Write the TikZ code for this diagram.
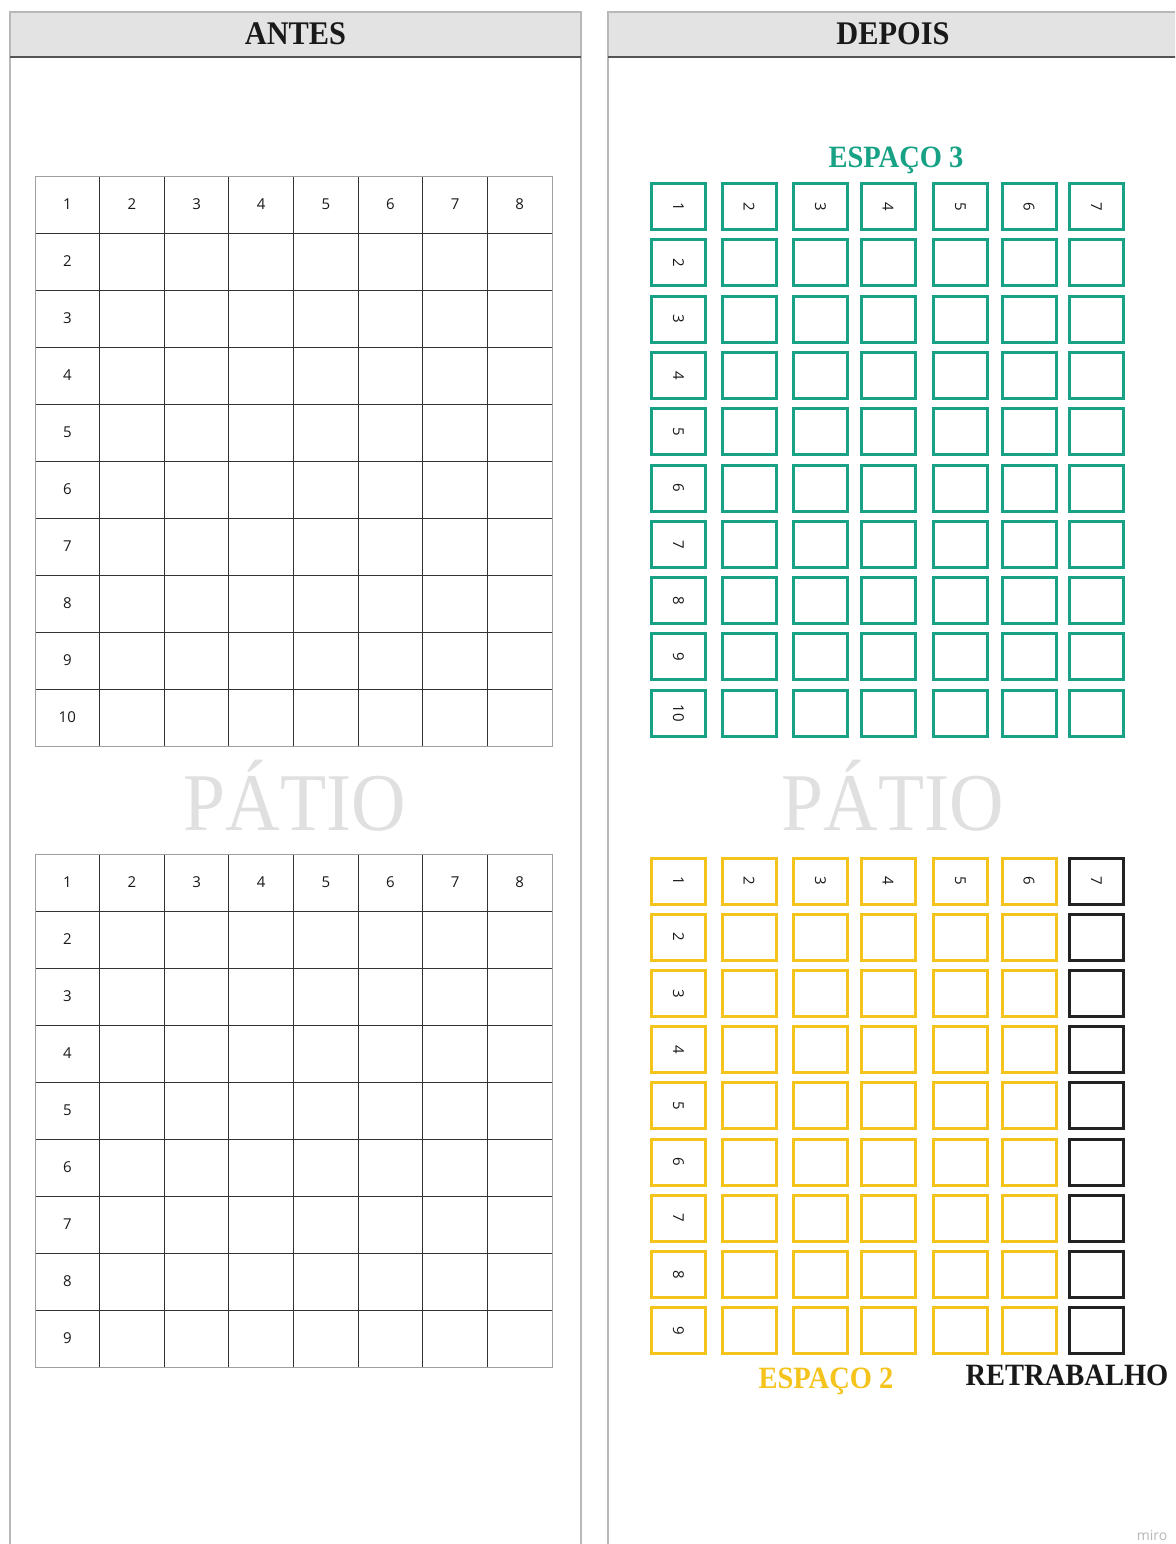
\documentclass[tikz,border=0pt]{standalone}
\usepackage{fontspec}
\setmainfont{Liberation Serif}
\newfontfamily\numfont{Open Sans}
\newfontfamily\titlefont[FakeStretch=0.92]{Liberation Serif}
\definecolor{hdrgray}{HTML}{E3E3E3}
\definecolor{framegray}{HTML}{B8B8B8}
\definecolor{hdrline}{HTML}{555555}
\definecolor{gridgray}{HTML}{A0A0A0}
\definecolor{gridline}{HTML}{333333}
\definecolor{patio}{HTML}{E0E0E0}
\definecolor{teal3}{HTML}{17A185}
\definecolor{gold2}{HTML}{F4C31C}
\definecolor{rework}{HTML}{222222}
\begin{document}
\begin{tikzpicture}[x=1pt,y=-1pt,
  hdr/.style={font=\titlefont\bfseries\fontsize{33}{33}\selectfont, text=black!90, inner sep=0pt, anchor=base},
  lbl/.style={font=\titlefont\bfseries\fontsize{31}{31}\selectfont, inner sep=0pt, anchor=base},
  patiotext/.style={font=\titlefont\fontsize{82}{82}\selectfont, text=patio, inner sep=0pt, anchor=base},
  cellnum/.style={font=\numfont\fontsize{15}{15}\selectfont, text=black!90, inner sep=0pt},
  boxnum/.style={font=\numfont\fontsize{15}{15}\selectfont, text=black!90, inner sep=0pt, rotate=-90},
  slotbox/.style={draw, line width=3pt, minimum width=54pt, minimum height=46pt, inner sep=0pt},
  panelframe/.style={draw=framegray, line width=1.5pt},
]
\useasboundingbox (0,0) rectangle (1175,1544);
\clip (0,0) rectangle (1175,1544);
\fill[white] (0,0) rectangle (1175,1544);

% ---------- panels ----------
\fill[hdrgray] (10,12) rectangle (581,57);
\draw[panelframe] (10,1560) -- (10,12) -- (581,12) -- (581,1560);
\draw[hdrline, line width=1.2pt] (10,57) -- (581,57);
\fill[hdrgray] (608,12) rectangle (1190,57);
\draw[panelframe] (608,1560) -- (608,12) -- (1190,12);
\draw[hdrline, line width=1.2pt] (608,57) -- (1190,57);
\node[hdr] (hA) at (295.5,45) {ANTES};
\node[hdr] (hD) at (893,45) {DEPOIS};

% ---------- ANTES grids ----------
\foreach \g/\gtop/\nr in {A/176/10,B/854/9} {
  \pgfmathsetmacro\gbot{\gtop+57*\nr}
  \pgfmathtruncatemacro\nrm{\nr-1}
  \foreach \i in {1,...,7}
    \draw[gridline, line width=0.9pt] ({35+64.625*\i},\gtop) -- ({35+64.625*\i},\gbot);
  \foreach \j in {1,...,\nrm}
    \draw[gridline, line width=0.9pt] (35,{\gtop+57*\j}) -- (552,{\gtop+57*\j});
  \draw[gridgray, line width=0.9pt] (35,\gtop) rectangle (552,\gbot);
  \foreach \i in {1,...,8}
    \node[cellnum] (\g-c\i) at ({35+64.625*(\i-0.5)},{\gtop+28.5}) {\i};
  \foreach \j in {2,...,\nr}
    \node[cellnum] (\g-r\j) at ({35+64.625*0.5},{\gtop+57*(\j-0.5)}) {\j};
}

% ---------- PATIO ----------
\node[patiotext] (pA) at (295,830) {PÁTIO};
\node[patiotext] (pD) at (893,830) {PÁTIO};

% ---------- DEPOIS: ESPAÇO 3 ----------
\node[lbl, text=teal3] (e3) at (896,167) {ESPAÇO 3};
\foreach \x [count=\c] in {678.5,749,820.5,888,960.5,1029,1096.5} {
  \foreach \r in {1,...,10} {
    \pgfmathsetmacro\y{206.5+56.3*(\r-1)}
    \node[slotbox, draw=teal3] (g-\r-\c) at (\x,\y) {};
    \ifnum\r=1
      \node[boxnum] (gn-\r-\c) at (\x,\y) {\c};
    \else
      \ifnum\c=1
        \node[boxnum] (gn-\r-\c) at (\x,\y) {\r};
      \fi
    \fi
  }
}

% ---------- DEPOIS: ESPAÇO 2 + RETRABALHO ----------
\foreach \x [count=\c] in {678.5,749,820.5,888,960.5,1029,1096.5} {
  \foreach \r in {1,...,9} {
    \pgfmathsetmacro\y{881+56.2*(\r-1)}
    \ifnum\c=7
      \node[slotbox, draw=rework] (y-\r-\c) at (\x,\y) {};
    \else
      \node[slotbox, draw=gold2] (y-\r-\c) at (\x,\y) {};
    \fi
    \ifnum\r=1
      \node[boxnum] (yn-\r-\c) at (\x,\y) {\c};
    \else
      \ifnum\c=1
        \node[boxnum] (yn-\r-\c) at (\x,\y) {\r};
      \fi
    \fi
  }
}
\node[lbl, text=gold2] (e2) at (826,1388) {ESPAÇO 2};
\node[lbl, text=black!90] (rt) at (1067,1385) {RETRABALHO};

% ---------- watermark ----------
\node[font=\numfont\fontsize{14}{14}\selectfont, text=black!28, inner sep=0pt] (miro) at (1152,1535) {miro};
\end{tikzpicture}
\end{document}
